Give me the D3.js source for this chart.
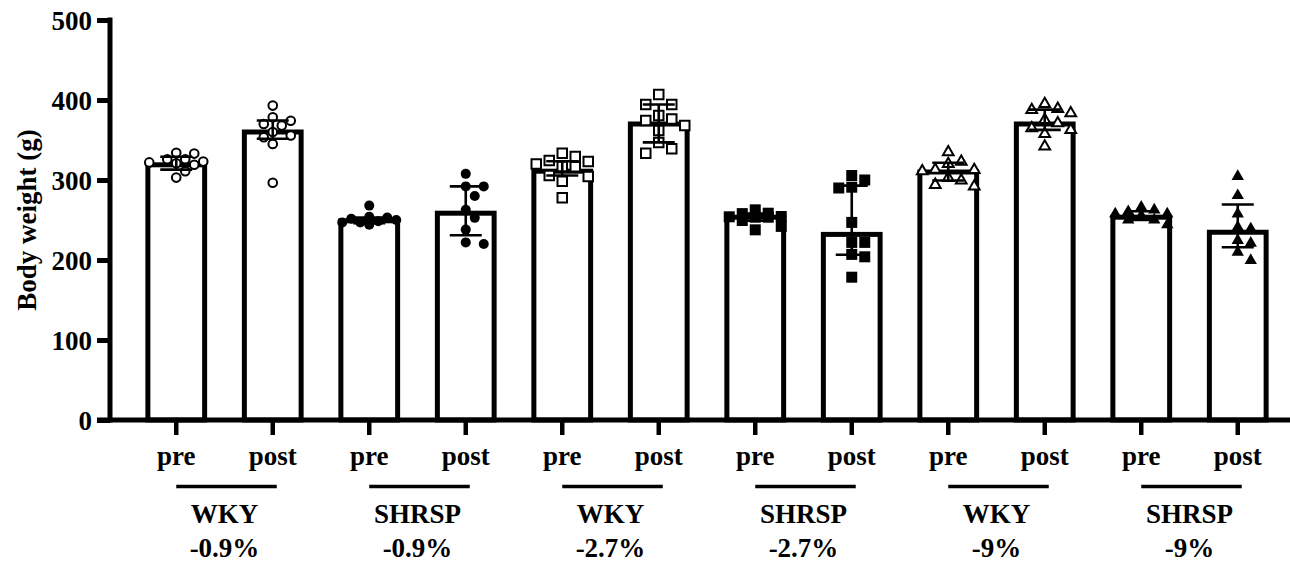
<!DOCTYPE html>
<html><head><meta charset="utf-8">
<script src="https://cdn.jsdelivr.net/npm/d3@7"></script>
<style>
body{margin:0;background:#fff}
svg{display:block}
text{font-family:"Liberation Serif","Times New Roman",serif;font-weight:bold;fill:#000}
</style>
</head><body><svg id="c" width="1290" height="562"></svg>
<script>
// ---- data ----
const categories = ["pre","post","pre","post","pre","post","pre","post","pre","post","pre","post"];
const groupNames = ["WKY","SHRSP","WKY","SHRSP","WKY","SHRSP"];
const groupChanges = ["-0.9%","-0.9%","-2.7%","-2.7%","-9%","-9%"];
const yTicks = [0,100,200,300,400,500];
const yLabel = "Body weight (g)";
// bar height = median, whiskers = interquartile range
const medians = [319, 360, 249, 258.5, 311, 370, 253.5, 232, 310, 370, 253.5, 234.7];
const q1s     = [313, 351.5, 246, 231, 305.6, 347, 249, 206.5, 299.4, 362.7, 250, 216];
const q3s     = [329, 374.4, 253, 292, 323.5, 394.4, 258, 293, 321.5, 388, 261, 269.4];
// individual animals
const wky09Pre    = [334, 333, 326, 326, 323, 322, 321, 319, 311, 303];
const wky09Post   = [393, 378.5, 374, 370, 368, 360, 355.6, 353.5, 345, 296.5];
const shrsp09Pre  = [268, 254, 253, 251.5, 250, 248.5, 247, 247, 244];
const shrsp09Post = [307.7, 292, 292, 280, 262.7, 252.7, 238, 222, 220];
const wky27Pre    = [333.5, 329.4, 324.4, 323, 320, 317, 316.6, 305.6, 304.4, 298.5, 277.7];
const wky27Post   = [407, 394.4, 394.4, 380.6, 376.4, 374.4, 368, 362, 347, 339, 333.5];
const shrsp27Pre  = [262.7, 258.5, 258, 254.4, 254, 253.5, 253.5, 249.4, 242, 237.7];
const shrsp27Post = [305.6, 300, 291, 290, 247, 222, 222, 207, 204, 178.5];
const wky9Pre     = [334.8, 323, 320, 313, 312.7, 311, 302.7, 299.4, 294, 292];
const wky9Post    = [395, 389, 387.7, 383.5, 375, 371, 364.8, 362.7, 357.7, 342];
const shrsp9Pre   = [266, 262.7, 260.6, 257.7, 257.7, 255.6, 250, 250, 244];
const shrsp9Post  = [304.4, 280.6, 257.7, 241, 239, 224.4, 221, 209.7, 199.4];
const points = [wky09Pre, wky09Post, shrsp09Pre, shrsp09Post, wky27Pre, wky27Post,
                shrsp27Pre, shrsp27Post, wky9Pre, wky9Post, shrsp9Pre, shrsp9Post];

// ---- drawing ----
const svg = d3.select("#c");
const y = d3.scaleLinear().domain([0, 500]).range([420, 20]);
const x = d3.scaleBand().domain(d3.range(categories.length))
  .range([128, 1286]).paddingInner(0.36).paddingOuter(0.18);
const bw = x.bandwidth();
const cx = i => x(i) + bw / 2;

// bars
svg.append("g").selectAll("rect").data(medians).join("rect")
  .attr("x", (d, i) => x(i) + 2.5)
  .attr("width", bw - 5)
  .attr("y", d => y(d))
  .attr("height", d => y(0) - y(d))
  .attr("fill", "#fff").attr("stroke", "#000").attr("stroke-width", 5);

// marker styles by bar index: circle / square / triangle per diet, open = WKY, filled = SHRSP
function markerFor(i) {
  const shape = ["circle", "square", "triangle"][Math.floor(i / 4)];
  const filled = Math.floor(i / 2) % 2 === 1;
  return {shape, filled};
}

function swarm(vals, step, dmin, maxK) {
  const placed = [];
  const order = [0];
  for (let k = 1; k <= maxK; k++) { order.push(k, -k); }
  return vals.slice().sort((a, b) => b - a).map(v => {
    const py = y(v);
    let best = 0, bestOv = Infinity;
    for (const k of order) {
      const px = k * step;
      let ov = 0;
      for (const p of placed) {
        const dist = Math.hypot(p.x - px, p.y - py);
        if (dist < dmin) ov += dmin - dist;
      }
      if (ov === 0) { best = px; bestOv = 0; break; }
      if (ov < bestOv - 1e-6) { bestOv = ov; best = px; }
    }
    placed.push({x: best, y: py});
    return {v, dx: best};
  });
}

const ptsG = svg.append("g");
points.forEach((vals, i) => {
  const m = markerFor(i);
  let step, dmin, maxK, sym, size;
  if (m.shape === "circle") { step = 9; dmin = 10; maxK = 3; sym = d3.symbolCircle; size = Math.PI * (m.filled ? 5 * 5 : 4.3 * 4.3); }
  else if (m.shape === "square") { step = 13; dmin = 11; maxK = 2; sym = d3.symbolSquare; size = m.filled ? 11 * 11 : 9.5 * 9.5; }
  else { step = 13; dmin = 11; maxK = 2; sym = d3.symbolTriangle; size = m.filled ? 66 : 50; }
  const placed = swarm(vals, step, dmin, maxK);
  ptsG.append("g").selectAll("path").data(placed).join("path")
    .attr("d", d3.symbol().type(sym).size(size))
    .attr("transform", d => `translate(${cx(i) + d.dx},${y(d.v)})`)
    .attr("fill", m.filled ? "#000" : "#fff")
    .attr("stroke", m.filled ? "none" : "#000")
    .attr("stroke-width", 2);
});

// error bars (IQR)
const eg = svg.append("g").attr("stroke", "#000").attr("stroke-width", 2.6);
medians.forEach((m, i) => {
  const c = cx(i);
  eg.append("line").attr("x1", c).attr("x2", c).attr("y1", y(q1s[i])).attr("y2", y(q3s[i]));
  eg.append("line").attr("x1", c - 16).attr("x2", c + 16).attr("y1", y(q1s[i])).attr("y2", y(q1s[i]));
  eg.append("line").attr("x1", c - 16).attr("x2", c + 16).attr("y1", y(q3s[i])).attr("y2", y(q3s[i]));
});

// y axis
const yAxis = svg.append("g").attr("transform", "translate(110,0)")
  .call(d3.axisLeft(y).tickValues(yTicks).tickSize(13).tickSizeOuter(0).tickPadding(5).tickFormat(d3.format("d")));
yAxis.select(".domain").attr("stroke-width", 5).attr("stroke-linecap", "square").attr("d", `M0,${y(0)}V${y(500)}`);
yAxis.selectAll(".tick line").attr("stroke-width", 5);
yAxis.selectAll(".tick text").attr("font-size", 27).attr("font-family", null)
  .attr("dy", "0.34em");

// x axis
const xAxis = svg.append("g").attr("transform", `translate(0,${y(0)})`)
  .call(d3.axisBottom(x).tickSize(15).tickSizeOuter(0).tickFormat(i => categories[i]));
xAxis.select(".domain").attr("d", "M97,0H1290").attr("stroke-width", 5);
xAxis.selectAll(".tick line").attr("stroke-width", 4.5);
xAxis.selectAll(".tick text").attr("font-size", 27).attr("font-family", null)
  .attr("y", 45).attr("dy", null);

// group underlines and labels
const gg = svg.append("g");
groupNames.forEach((g, k) => {
  const a = cx(2 * k), b = cx(2 * k + 1);
  gg.append("line").attr("x1", a).attr("x2", b + 4).attr("y1", 486.5).attr("y2", 486.5)
    .attr("stroke", "#000").attr("stroke-width", 3.6);
  gg.append("text").attr("x", (a + b) / 2).attr("y", 523).attr("text-anchor", "middle")
    .attr("font-size", 27).text(g);
  gg.append("text").attr("x", (a + b) / 2).attr("y", 557).attr("text-anchor", "middle")
    .attr("font-size", 27).text(groupChanges[k]);
});

// y title
svg.append("text").attr("transform", "translate(36,220) rotate(-90)")
  .attr("text-anchor", "middle").attr("font-size", 27).text(yLabel);
</script>
</body></html>
